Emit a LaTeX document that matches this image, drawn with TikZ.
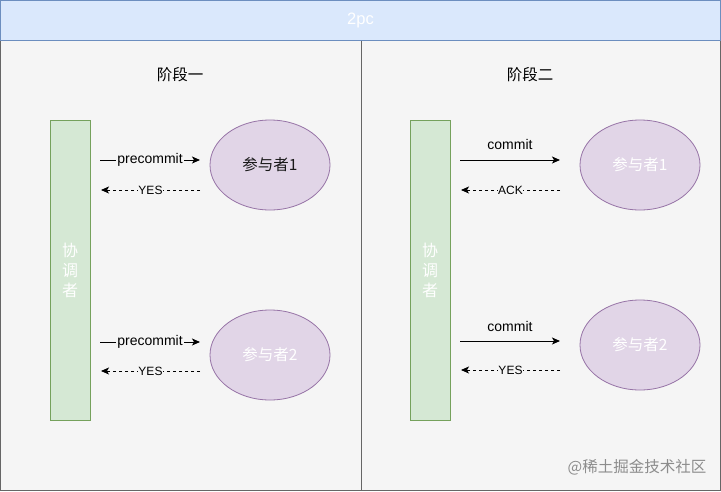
\documentclass[tikz,border=0pt]{standalone}
\usepackage{fontspec}
\setmainfont{Liberation Sans}
\newfontfamily\cjk{Noto Sans CJK SC}
\usepackage{tikz}
\usetikzlibrary{positioning, arrows.meta, shapes.geometric}
\definecolor{titlefill}{HTML}{DAE8FC}
\definecolor{titleline}{HTML}{6C8EBF}
\definecolor{panelfill}{HTML}{F5F5F5}
\definecolor{panelline}{HTML}{666666}
\definecolor{barfill}{HTML}{D5E8D4}
\definecolor{barline}{HTML}{82B366}
\definecolor{partfill}{HTML}{E1D5E7}
\definecolor{partline}{HTML}{9673A6}
\tikzstyle{panel}=[draw=panelline, fill=panelfill, line width=1pt]
\tikzstyle{titlebar}=[draw=titleline, fill=titlefill, line width=1pt, minimum width=720, minimum height=39.5, text=white, font=\fontsize{16.5}{16.5}\selectfont]
\tikzstyle{phase}=[font=\cjk\fontsize{15.5}{15.5}\selectfont]
\tikzstyle{coord}=[draw=barline!90!black, fill=barfill, line width=0.9pt, minimum width=40, minimum height=300, inner sep=0, text=white, align=center, font=\cjk\fontsize{16}{20}\selectfont]
\tikzstyle{part}=[ellipse, draw=partline, fill=partfill, line width=0.8pt, minimum width=120, minimum height=90, inner sep=0, text=white, font=\cjk\fontsize{15.5}{15.5}\selectfont]
\tikzstyle{req}=[->, line width=1pt]
\tikzstyle{ans}=[->, line width=0.9pt, dash pattern=on 3pt off 3pt]
\tikzstyle{lbl}=[fill=panelfill, inner sep=1pt, font=\fontsize{14}{14}\selectfont]
\tikzstyle{small}=[fill=panelfill, inner sep=0.5pt, font=\fontsize{12}{12}\selectfont]
\tikzstyle{wmark}=[text=black!45, font=\cjk\fontsize{15.5}{15.5}\selectfont]

\begin{document}
\begin{tikzpicture}[x=1pt,y=-1pt,>={Stealth[length=8pt,width=7pt,inset=2pt]},node distance=20pt]
      \useasboundingbox (0,0) rectangle (721,491);
      % background panels
      \draw[panel] (0.5,40) rectangle (361,490.5);
      \draw[panel] (361,40) rectangle (720.5,490.5);
      \node [titlebar] (title) at (360.5,20.25) {2pc};

      % phase one
      \node [phase] (p1) at (180,75) {阶段一};
      \node [coord] (c1) at (70,270) {协\\调\\者};
      \node [part, text=black!90] (a1) at (270,165) {参与者1};
      \node [part] (a2) at (270,355) {参与者2};
      \coordinate (s1) at (100,160);
      \coordinate (e1) at (200,160);
      \coordinate (s2) at (200,190);
      \coordinate (e2) at (101,190);
      \coordinate (s3) at (100,342);
      \coordinate (e3) at (200,342);
      \coordinate (s4) at (200,371);
      \coordinate (e4) at (101,371);
      \draw[req] (s1) -- node [lbl] {precommit} (e1);
      \draw[ans] (s2) -- node [small] {YES} (e2);
      \draw[req] (s3) -- node [lbl] {precommit} (e3);
      \draw[ans] (s4) -- node [small] {YES} (e4);

      % phase two
      \node [phase] (p2) at (530,75) {阶段二};
      \node [coord] (c2) at (430,270) {协\\调\\者};
      \node [part] (b1) at (640,165) {参与者1};
      \node [part] (b2) at (640,345) {参与者2};
      \coordinate (t1) at (460,160);
      \coordinate (f1) at (560,160);
      \coordinate (t2) at (560,190);
      \coordinate (f2) at (461,190);
      \coordinate (t3) at (460,341);
      \coordinate (f3) at (560,341);
      \coordinate (t4) at (560,370);
      \coordinate (f4) at (461,370);
      \draw[req] (t1) -- node [lbl, above=9pt] {commit} (f1);
      \draw[ans] (t2) -- node [small] {ACK} (f2);
      \draw[req] (t3) -- node [lbl, above=8pt] {commit} (f3);
      \draw[ans] (t4) -- node [small] {YES} (f4);

      \node [wmark] (wm) at (637,467) {@稀土掘金技术社区};
\end{tikzpicture}
\end{document}
